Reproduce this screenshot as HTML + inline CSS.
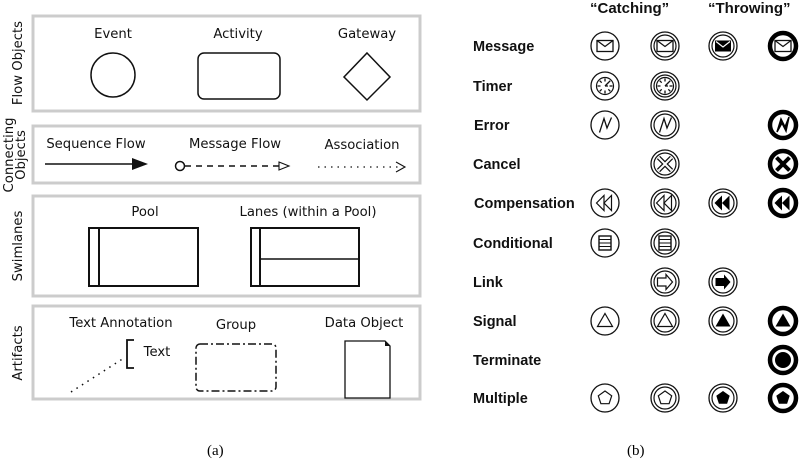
<!DOCTYPE html>
<html><head><meta charset="utf-8"><style>
body{margin:0;background:#fff}
svg{display:block}
.s{font-family:"DejaVu Sans","Liberation Sans",sans-serif;font-size:13.2px;fill:#111}
.b{font-family:"Liberation Sans",sans-serif;font-size:14.5px;font-weight:bold;fill:#111}
.c{font-family:"Liberation Serif",serif;font-size:15px;fill:#000}
</style></head><body>
<svg width="800" height="462" viewBox="0 0 800 462" xmlns="http://www.w3.org/2000/svg">
<defs>
<g id="c1"><circle r="14" fill="#fff" stroke="#111" stroke-width="1.3"/></g>
<g id="c2"><circle r="14" fill="#fff" stroke="#111" stroke-width="1.3"/><circle r="11" fill="none" stroke="#111" stroke-width="1.2"/></g>
<g id="c4"><circle r="13" fill="#fff" stroke="#000" stroke-width="4.5"/></g>
<g id="env"><rect x="-8" y="-5.5" width="16" height="11" fill="#fff" stroke="#111" stroke-width="1.3"/><polyline points="-8,-5.5 0,0.5 8,-5.5" fill="none" stroke="#111" stroke-width="1.2"/></g>
<g id="envf"><rect x="-8" y="-5.5" width="16" height="11" fill="#000"/><polyline points="-7,-4.5 0,1 7,-4.5" fill="none" stroke="#fff" stroke-width="1.2"/></g>
<g id="tim"><circle r="8.5" fill="none" stroke="#111" stroke-width="1.2"/><path d="M0,-7.5v3M0,7.5v-3M-7.5,0h3M7.5,0h-3M-5.3,-5.3l2,2M5.3,5.3l-2,-2M-5.3,5.3l2,-2M5.3,-5.3l-2,2M0,0l4,-4M0,0h3" stroke="#111" stroke-width="1.3"/></g>
<g id="err"><polyline points="-5.5,7.5 -1,-6.5 2,3 6.5,-7.5" fill="none" stroke="#111" stroke-width="1.3"/></g>
<g id="errf"><polygon points="-6,7 -2,-6 2,2 6,-8 3,6 -1,-2" fill="#000" stroke="#000" stroke-width="1.5"/></g>
<g id="can"><path d="M-6.5,-6.5L6.5,6.5M6.5,-6.5L-6.5,6.5" stroke="#111" stroke-width="4.5"/><path d="M-6.5,-6.5L6.5,6.5M6.5,-6.5L-6.5,6.5" stroke="#fff" stroke-width="2"/></g>
<g id="canf"><path d="M-6.5,-6.5L6.5,6.5M6.5,-6.5L-6.5,6.5" stroke="#000" stroke-width="4"/></g>
<g id="cmp"><polygon points="-8.5,0 -1,-7.5 -1,7.5" fill="none" stroke="#111" stroke-width="1.2"/><polygon points="-1,0 6.5,-7.5 6.5,7.5" fill="none" stroke="#111" stroke-width="1.2"/></g>
<g id="cmpf"><polygon points="-8.5,0 -1,-7.5 -1,7.5" fill="#000"/><polygon points="-1,0 6.5,-7.5 6.5,7.5" fill="#000"/></g>
<g id="cnd"><rect x="-6" y="-7" width="12" height="14" fill="#fff" stroke="#111" stroke-width="1.4"/><path d="M-5.5,-3.5h11M-5.5,0h11M-5.5,3.5h11" stroke="#111"/></g>
<g id="lnk"><polygon points="-7.5,-4 1,-4 1,-7.5 7.5,0 1,7.5 1,4 -7.5,4" fill="#fff" stroke="#111" stroke-width="1.2"/></g>
<g id="lnkf"><polygon points="-7.5,-4 1,-4 1,-7.5 7.5,0 1,7.5 1,4 -7.5,4" fill="#000"/></g>
<g id="sig"><polygon points="0,-7.5 7.5,5.5 -7.5,5.5" fill="#fff" stroke="#111" stroke-width="1.2"/></g>
<g id="sigf"><polygon points="0,-7.5 7.5,5.5 -7.5,5.5" fill="#000"/></g>
<g id="pen"><polygon points="0,-7 6.7,-2.2 4.1,5.7 -4.1,5.7 -6.7,-2.2" fill="#fff" stroke="#111" stroke-width="1.2"/></g>
<g id="penf"><polygon points="0,-7 6.7,-2.2 4.1,5.7 -4.1,5.7 -6.7,-2.2" fill="#000"/></g>
</defs>

<g fill="#fff" stroke="#ccc" stroke-width="3">
<rect x="33" y="16" width="387" height="95"/>
<rect x="33" y="126" width="387" height="57"/>
<rect x="33" y="196" width="387" height="100"/>
<rect x="33" y="306" width="387" height="93"/>
</g>
<g class="s" text-anchor="middle">
<text transform="translate(22,63) rotate(-90)">Flow Objects</text>
<text transform="translate(13,155) rotate(-90)">Connecting</text>
<text transform="translate(25,155) rotate(-90)">Objects</text>
<text transform="translate(22,246) rotate(-90)">Swimlanes</text>
<text transform="translate(22,353) rotate(-90)">Artifacts</text>
<text x="113" y="38">Event</text>
<text x="238" y="38">Activity</text>
<text x="367" y="38">Gateway</text>
<text x="96" y="148">Sequence Flow</text>
<text x="235" y="148">Message Flow</text>
<text x="362" y="149">Association</text>
<text x="145" y="216">Pool</text>
<text x="308" y="216">Lanes (within a Pool)</text>
<text x="121" y="327">Text Annotation</text>
<text x="236" y="329">Group</text>
<text x="364" y="327">Data Object</text>
<text x="157" y="356">Text</text>
</g>
<g fill="none" stroke="#111" stroke-width="1.5">
<circle cx="113" cy="75" r="22"/>
<rect x="198" y="53" width="82" height="46" rx="6"/>
<polygon points="367,53 390,77 367,100 344,77"/>
<line x1="45" y1="164" x2="132" y2="164"/>
<circle cx="180" cy="166" r="4.5"/>
<line x1="185" y1="166" x2="279" y2="166" stroke-dasharray="6,5"/>
<polygon points="279,162 289,166 279,170" stroke-width="1.1"/>
<line x1="318" y1="167" x2="398" y2="167" stroke-dasharray="1.5,5" stroke-width="1.2"/>
<polyline points="396,162 405,167 396,172" stroke-width="1.1"/>
<rect x="89" y="228" width="109" height="58" stroke-width="2"/>
<line x1="99" y1="228" x2="99" y2="286" stroke-width="2"/>
<rect x="251" y="228" width="108" height="58" stroke-width="2"/>
<line x1="260" y1="228" x2="260" y2="286" stroke-width="2"/>
<line x1="260" y1="259" x2="359" y2="259"/>
<polyline points="134,340 127,340 127,368 134,368" stroke-width="1.8"/>
<line x1="71" y1="392" x2="124" y2="358" stroke-dasharray="1.5,5"/>
<rect x="196" y="344" width="80" height="47" rx="4" stroke-dasharray="8,3,2,3"/>
<path d="M345,341 H385 L390,346 V398 H345 Z" stroke-width="1.3"/>
</g>
<polygon points="132,158 148,164 132,170" fill="#111"/>
<polygon points="385,341 390,346 385,346" fill="#111"/>

<g class="b">
<text x="590" y="13" font-size="15">“Catching”</text>
<text x="708" y="13" font-size="15">“Throwing”</text>
<text x="473" y="51">Message</text>
<text x="473" y="91">Timer</text>
<text x="474" y="130">Error</text>
<text x="473" y="169">Cancel</text>
<text x="474" y="208">Compensation</text>
<text x="473" y="248">Conditional</text>
<text x="473" y="287">Link</text>
<text x="473" y="326">Signal</text>
<text x="473" y="365">Terminate</text>
<text x="473" y="403">Multiple</text>
</g>
<g transform="translate(605,46)"><use href="#c1"/><use href="#env"/></g>
<g transform="translate(665,46)"><use href="#c2"/><use href="#env"/></g>
<g transform="translate(723,46)"><use href="#c2"/><use href="#envf"/></g>
<g transform="translate(783,46)"><use href="#c4"/><use href="#env"/></g>
<g transform="translate(605,86)"><use href="#c1"/><use href="#tim"/></g>
<g transform="translate(665,86)"><use href="#c2"/><use href="#tim"/></g>
<g transform="translate(605,125)"><use href="#c1"/><use href="#err"/></g>
<g transform="translate(665,125)"><use href="#c2"/><use href="#err"/></g>
<g transform="translate(783,125)"><use href="#c4"/><use href="#errf"/></g>
<g transform="translate(665,164)"><use href="#c2"/><use href="#can"/></g>
<g transform="translate(783,164)"><use href="#c4"/><use href="#canf"/></g>
<g transform="translate(605,203)"><use href="#c1"/><use href="#cmp"/></g>
<g transform="translate(665,203)"><use href="#c2"/><use href="#cmp"/></g>
<g transform="translate(723,203)"><use href="#c2"/><use href="#cmpf"/></g>
<g transform="translate(783,203)"><use href="#c4"/><use href="#cmpf"/></g>
<g transform="translate(605,243)"><use href="#c1"/><use href="#cnd"/></g>
<g transform="translate(665,243)"><use href="#c2"/><use href="#cnd"/></g>
<g transform="translate(665,282)"><use href="#c2"/><use href="#lnk"/></g>
<g transform="translate(723,282)"><use href="#c2"/><use href="#lnkf"/></g>
<g transform="translate(605,321)"><use href="#c1"/><use href="#sig"/></g>
<g transform="translate(665,321)"><use href="#c2"/><use href="#sig"/></g>
<g transform="translate(723,321)"><use href="#c2"/><use href="#sigf"/></g>
<g transform="translate(783,321)"><use href="#c4"/><use href="#sigf"/></g>
<g transform="translate(783,360)"><use href="#c4"/><circle r="8" fill="#000"/></g>
<g transform="translate(605,398)"><use href="#c1"/><use href="#pen"/></g>
<g transform="translate(665,398)"><use href="#c2"/><use href="#pen"/></g>
<g transform="translate(723,398)"><use href="#c2"/><use href="#penf"/></g>
<g transform="translate(783,398)"><use href="#c4"/><use href="#penf"/></g>

<text class="c" x="207" y="455">(a)</text>
<text class="c" x="627" y="455">(b)</text>
</svg>
</body></html>
